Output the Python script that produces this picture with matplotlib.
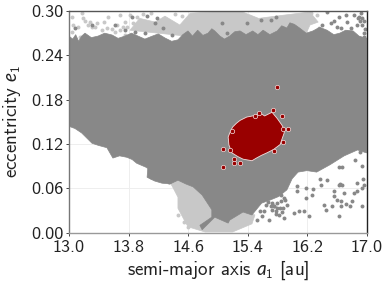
import matplotlib
matplotlib.use("Agg")
import matplotlib.pyplot as plt

plt.rcParams['font.family'] = ['cmss10', 'DejaVu Sans']
plt.rcParams['mathtext.fontset'] = 'custom'
plt.rcParams['mathtext.rm'] = 'cmss10'
plt.rcParams['mathtext.it'] = 'Lato:italic'
plt.rcParams['axes.unicode_minus'] = False

GRAY = '#888888'
LIGHT = '#c8c8c8'
RED = '#990000'

x_ticks = [13.0, 13.8, 14.6, 15.4, 16.2, 17.0]
y_ticks = [0.00, 0.06, 0.12, 0.18, 0.24, 0.30]

# region outlines (semi-major axis, eccentricity)
gray_upper_a = [13, 13.05, 13.09, 13.13, 13.17, 13.215, 13.3, 13.39, 13.48, 13.58, 13.66, 13.75, 13.84, 13.93,
                14.02, 14.12, 14.2, 14.29, 14.38, 14.465, 14.53, 14.6, 14.66, 14.73, 14.8, 14.87, 14.92, 14.96,
                15.03, 15.09, 15.16, 15.23, 15.30, 15.38, 15.47, 15.54, 15.61, 15.70, 15.80, 15.86, 15.93, 15.97,
                16.03, 16.10, 16.19, 16.28, 16.37, 16.47, 16.56, 16.64, 16.72, 16.82, 16.90, 17]
gray_upper_e = [.266, .262, .268, .259, .266, .270, .264, .266, .270, .2675, .263, .266, .270, .266,
                .262, .266, .269, .2635, .259, .261, .268, .273, .266, .274, .267, .270, .276, .273,
                .266, .262, .266, .272, .273, .268, .273, .268, .274, .268, .273, .280, .277, .284,
                .282, .277, .270, .273, .278, .274, .268, .270, .274, .273, .266, .263]
gray_lower_a = [13, 13.08, 13.17, 13.24, 13.31, 13.4, 13.51, 13.59, 13.68, 13.78, 13.85, 13.91, 14.06, 14.05,
                14.15, 14.25, 14.36, 14.465, 14.57, 14.67, 14.79, 14.92,
                14.92, 14.76, 14.79, 14.96, 15.14, 15.16, 15.34, 15.46, 15.59, 15.70, 15.82, 15.93, 16.0, 16.08,
                16.2, 16.33, 16.51, 16.7, 16.88, 17]
gray_lower_e = [.144, .141, .135, .128, .121, .118, .115, .101, .104, .102, .099, .094, .0875, .075,
                .070, .067, .066, .071, .066, .062, .051, .031,
                .021, .010, .004, .021, .013, .017, .028, .024, .040, .044, .049, .058, .073, .082,
                .084, .082, .092, .104, .112, .108]
light_top_a = [13.82, 13.95, 14.16, 14.29, 14.49, 14.63, 14.9, 15.3, 15.55, 15.7, 16.1, 16.24, 16.35, 16.24, 16.1]
light_top_e = [.274, .29, .285, .293, .281, .297, .2985, .30, .29, .292, .297, .2985, .285, .281, .25]
light_low_a = [14.3, 14.465, 14.465, 14.55, 14.6, 14.83, 15.2, 15.46, 15.50, 15.34, 15.0]
light_low_e = [.08, .048, .033, .017, .008, .001, .001, .012, .024, .03, .06]
blob_a = [15.14, 15.17, 15.20, 15.25, 15.30, 15.39, 15.50, 15.57, 15.63, 15.73, 15.80, 15.86, 15.90, 15.89, 15.87,
          15.84, 15.75, 15.66, 15.59, 15.52, 15.46, 15.34, 15.27, 15.19, 15.15]
blob_e = [.1295, .137, .143, .148, .152, .1565, .1586, .162, .158, .163, .1545, .146, .139, .134, .1285,
          .1194, .1126, .108, .1048, .101, .0974, .0995, .103, .108, .1187]

# individually visible points
light_pts_a = [13.04, 13.17, 13.19, 13.05, 13.12, 13.04, 13.28, 13.38, 13.35, 13.26, 13.15, 13.51, 13.52, 13.65,
               13.69, 13.75, 13.82, 13.86, 13.91, 13.69, 13.75, 16.33, 16.23, 16.36, 16.25,
               14.465, 14.55, 14.6, 14.06, 14.2, 14.4,
               13.22, 13.31, 13.45, 13.58, 13.62, 13.72, 13.78, 13.47, 13.9, 14.0, 14.1, 14.42, 14.52, 14.2]
light_pts_e = [.292, .297, .291, .281, .278, .272, .285, .284, .278, .281, .265, .277, .292, .281,
               .295, .285, .295, .284, .292, .274, .268, .295, .291, .277, .297,
               .024, .0145, .008, .089, .082, .066,
               .286, .279, .274, .275, .272, .278, .279, .285, .282, .296, .297, .296, .293, .274]
gray_pts_a = [13.08, 13.31, 13.62, 13.75, 13.89, 14.05, 14.16, 14.26, 14.38, 14.02, 13.85, 14.18, 15.06, 15.12,
              15.58, 15.71, 15.78, 15.39,
              16.47, 16.72, 16.83, 16.94, 16.63, 16.92, 16.74, 16.66, 16.87, 16.94, 16.40, 16.52, 16.79, 16.97, 16.90,
              16.06, 16.18, 16.28, 16.27, 16.06, 16.18, 16.37, 16.47, 16.39, 16.63, 16.67, 16.64, 16.87, 16.56, 16.56,
              16.60, 16.70, 16.66, 16.66, 16.53, 16.45, 16.43, 16.73, 16.78, 16.80, 16.94, 16.63, 16.87, 16.94, 16.83,
              16.94, 16.97, 16.91, 16.63, 16.67, 15.65, 15.73, 15.78, 15.82, 15.89, 15.69, 15.93, 15.89, 15.80, 15.59,
              15.53, 16.09, 16.16, 16.23, 16.02, 15.85, 15.73, 15.84, 15.76, 13.24, 14.10, 14.34,
              15.68, 15.71, 15.75, 15.79, 15.85, 15.87, 15.91, 15.62, 15.57, 15.78, 15.88,
              16.89, 16.91, 16.96, 16.98, 16.97, 16.95, 16.85, 16.72, 16.56, 16.60, 16.74, 16.9]
gray_pts_e = [.277, .281, .281, .274, .272, .293, .284, .277, .268, .270, .292, .291, .284, .270,
              .288, .288, .292, .284,
              .299, .295, .295, .291, .292, .297, .285, .277, .281, .281, .281, .284, .277, .265, .263,
              .063, .060, .059, .051, .056, .047, .073, .071, .065, .089, .089, .066, .067, .056, .050,
              .044, .054, .043, .036, .036, .031, .037, .039, .036, .043, .036, .023, .056, .060, .054,
              .090, .065, .109, .065, .065, .037, .031, .029, .024, .020, .017, .037, .047, .033, .023,
              .017, .029, .029, .023, .027, .051, .040, .033, .036, .139, .076, .069,
              .041, .036, .036, .040, .043, .028, .044, .030, .029, .025, .033,
              .290, .286, .286, .276, .270, .072, .098, .270, .287, .279, .272, .292]
red_pts_a = [15.80, 15.07, 15.07, 15.94, 15.88, 15.5, 15.74, 15.55, 15.22, 15.22, 15.30, 15.75, 15.86, 15.19,
             15.88, 15.17]
red_pts_e = [.197, .113, .089, .140, .140, .158, .166, .162, .100, .094, .094, .1105, .158, .138, .123, .112]

fig = plt.figure(figsize=(3.88, 2.87), dpi=100)
ax = fig.add_axes([69 / 388, 1 - 232.7 / 287, 297.5 / 388, 221.7 / 287])

ax.grid(True, color='#eeeeee', lw=0.7, zorder=0)
ax.set_axisbelow(True)

ax.fill(light_top_a, light_top_e, color=LIGHT, lw=0.5, zorder=1)
ax.fill(light_low_a, light_low_e, color=LIGHT, lw=0.5, zorder=1)
ax.scatter(light_pts_a, light_pts_e, s=8, color=LIGHT, lw=0, zorder=1.5)
ax.fill(gray_upper_a + gray_lower_a[::-1], gray_upper_e + gray_lower_e[::-1], color=GRAY, lw=0.5, zorder=2)
ax.scatter(gray_pts_a, gray_pts_e, s=8, color=GRAY, lw=0, zorder=2)
ax.fill(blob_a, blob_e, facecolor=RED, edgecolor='#f4e0e0', lw=0.6, zorder=3)
ax.scatter(red_pts_a, red_pts_e, s=10, color=RED, edgecolor='#f4e0e0', lw=0.5, zorder=3)

ax.set_xlim(13, 17)
ax.set_ylim(0, 0.30)
ax.set_xticks(x_ticks)
ax.set_yticks(y_ticks)
ax.set_xticklabels([f'{v:.1f}' for v in x_ticks])
ax.set_yticklabels([f'{v:.2f}' for v in y_ticks])
ax.tick_params(labelsize=13, length=2.5, width=0.7, color='#444444', labelcolor='#222222')
ax.tick_params(axis='x', pad=3)
ax.tick_params(axis='y', pad=1.5)
ax.set_xlabel(r'semi-major axis $a_1$ [au]', fontsize=13.7, color='#222222', labelpad=2.5)
ax.set_ylabel(r'eccentricity $e_1$', fontsize=13.7, color='#222222', labelpad=6)

ax.spines['left'].set_color('#777777')
ax.spines['bottom'].set_color('#999999')
ax.spines['top'].set_color('#555555')
ax.spines['right'].set_color('#222222')
for s in ax.spines.values():
    s.set_linewidth(1.0)
    s.set_zorder(4)

fig.savefig('out.png', dpi=100)
